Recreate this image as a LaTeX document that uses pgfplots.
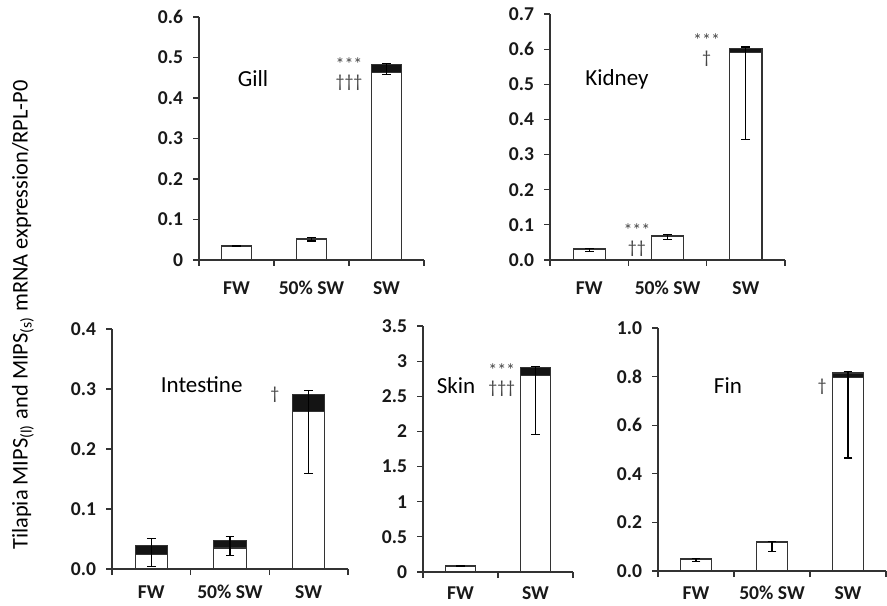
\documentclass[border=0pt]{standalone}
\usepackage{fontspec}
\setmainfont{Carlito}
\usepackage{pgfplots}
\pgfplotsset{compat=1.18}
\definecolor{axgray}{HTML}{333333}
\definecolor{annot}{HTML}{454545}
\definecolor{barblack}{HTML}{141414}
\pgfplotsset{
 panel/.style={
  scale only axis, clip=false,
  axis x line*=bottom, axis y line*=left,
  axis line style={axgray, line width=0.7pt},
  ymin=0, xmin=0,
  tick align=outside,
  major tick length=3pt,
  tick style={axgray, line width=0.6pt},
  xticklabels={},
  yticklabel style={xshift=-1.5pt},
  ticklabel style={font=\bfseries\fontsize{9.8}{11}\selectfont, text=black!90},
  /pgf/number format/assume math mode=true,
 },
 xlab/.style={extra x tick style={major tick length=0pt, tick style={draw=none}, xticklabel style={inner sep=0pt, yshift=#1}}},
 tot/.style={ybar, bar width=0.41, bar shift=0pt, fill=barblack, draw=axgray, line width=0.6pt},
 wht/.style={ybar, bar width=0.41, bar shift=0pt, fill=white, draw=axgray, line width=0.6pt},
 err/.style={draw=none, mark=none, forget plot, error bars/.cd, y dir=both, y explicit, error mark=|, error mark options={draw=black, mark size=2.2pt, line width=0.55pt}, error bar style={draw=black, line width=0.55pt}},
}
\tikzset{
 ann/.style={text=annot, font=\fontsize{9}{8.5}\selectfont, align=center, inner sep=0pt},
 ttl/.style={font=\fontsize{11.5}{13}\selectfont},
}
\begin{document}
\begin{tikzpicture}
\path[use as bounding box] (0,0) rectangle (443.5pt,302.5pt);
\node[rotate=90, font=\fontsize{11.2}{13}\selectfont] at (11.5pt,145pt) {Tilapia MIPS\textsubscript{(l)} and MIPS\textsubscript{(s)} mRNA expression/RPL-P0};

% Gill
\begin{axis}[panel, xlab=-10.5pt, at={(99.5pt,172.5pt)}, anchor=south west, width=112.5pt, height=121.5pt,
  xmax=3, ymax=0.6, xtick={0,1,2,3}, ytick={0,0.1,0.2,0.3,0.4,0.5,0.6},
  extra x ticks={0.5,1.5,2.5}, extra x tick labels={FW,50\% SW,SW}]
\addplot[tot] coordinates {(0.5,0.035) (1.5,0.053) (2.5,0.482)};
\addplot[wht] coordinates {(0.5,0.033) (1.5,0.050) (2.5,0.463)};
\addplot[err] coordinates {(0.5,0.035) += (0,0.001) -= (0,0.001) (1.5,0.053) += (0,0.002) -= (0,0.006) (2.5,0.482) += (0,0.004) -= (0,0.024)};
\node[ttl] at (axis cs:0.72,0.447) {Gill};
\node[ann] at (axis cs:2.0,0.458) {***\\\textdagger\textdagger\textdagger};
\end{axis}

% Kidney
\begin{axis}[panel, xlab=-10.5pt, at={(275pt,172.5pt)}, anchor=south west, width=117.5pt, height=123pt,
  xmax=3, ymax=0.7, xtick={0,1,2,3}, ytick={0,0.1,0.2,0.3,0.4,0.5,0.6,0.7},
  yticklabel style={/pgf/number format/.cd, fixed, fixed zerofill, precision=1},
  extra x ticks={0.5,1.5,2.5}, extra x tick labels={FW,50\% SW,SW}]
\addplot[tot] coordinates {(0.5,0.032) (1.5,0.069) (2.5,0.602)};
\addplot[wht] coordinates {(0.5,0.030) (1.5,0.066) (2.5,0.590)};
\addplot[err] coordinates {(0.5,0.032) += (0,0.001) -= (0,0.007) (1.5,0.069) += (0,0.003) -= (0,0.011) (2.5,0.602) += (0,0.004) -= (0,0.259)};
\node[ttl] at (axis cs:0.855,0.515) {Kidney};
\node[ann] at (axis cs:2.0,0.596) {***\\\textdagger};
\node[ann] at (axis cs:1.11,0.057) {***\\\textdagger\textdagger};
\end{axis}

% Intestine
\begin{axis}[panel, xlab=-8pt, at={(56pt,18pt)}, anchor=south west, width=118pt, height=120pt,
  xmax=3, ymax=0.4, xtick={0,1,2,3}, ytick={0,0.1,0.2,0.3,0.4},
  yticklabel style={/pgf/number format/.cd, fixed, fixed zerofill, precision=1},
  extra x ticks={0.5,1.5,2.5}, extra x tick labels={FW,50\% SW,SW}]
\addplot[tot] coordinates {(0.5,0.039) (1.5,0.048) (2.5,0.291)};
\addplot[wht] coordinates {(0.5,0.024) (1.5,0.035) (2.5,0.262)};
\addplot[err] coordinates {(0.5,0.039) += (0,0.012) -= (0,0.035) (1.5,0.048) += (0,0.006) -= (0,0.025) (2.5,0.291) += (0,0.006) -= (0,0.132)};
\node[ttl] at (axis cs:1.14,0.308) {Intestine};
\node[ann] at (axis cs:2.07,0.29) {\textdagger};
\end{axis}

% Skin
\begin{axis}[panel, xlab=-7pt, at={(211.5pt,16.5pt)}, anchor=south west, width=75pt, height=123pt,
  xmax=2, ymax=3.5, xtick={0,1,2}, ytick={0,0.5,1,1.5,2,2.5,3,3.5},
  extra x ticks={0.5,1.5}, extra x tick labels={FW,SW}]
\addplot[tot] coordinates {(0.5,0.09) (1.5,2.91)};
\addplot[wht] coordinates {(0.5,0.08) (1.5,2.80)};
\addplot[err] coordinates {(0.5,0.09) += (0,0.005) -= (0,0.005) (1.5,2.91) += (0,0.02) -= (0,0.96)};
\node[ttl] at (axis cs:0.44,2.65) {Skin};
\node[ann] at (axis cs:1.05,2.73) {***\\\textdagger\textdagger\textdagger};
\end{axis}

% Fin
\begin{axis}[panel, xlab=-7.5pt, at={(329pt,17pt)}, anchor=south west, width=114pt, height=121.5pt,
  xmax=3, ymax=1.0, xtick={0,1,2,3}, ytick={0,0.2,0.4,0.6,0.8,1.0},
  yticklabel style={/pgf/number format/.cd, fixed, fixed zerofill, precision=1},
  extra x ticks={0.5,1.5,2.5}, extra x tick labels={FW,50\% SW,SW}]
\addplot[tot] coordinates {(0.5,0.050) (1.5,0.120) (2.5,0.815)};
\addplot[wht] coordinates {(0.5,0.047) (1.5,0.117) (2.5,0.795)};
\addplot[err] coordinates {(0.5,0.050) += (0,0.002) -= (0,0.012) (1.5,0.120) += (0,0.003) -= (0,0.038) (2.5,0.815) += (0,0.005) -= (0,0.350)};
\node[ttl] at (axis cs:0.92,0.765) {Fin};
\node[ann] at (axis cs:2.16,0.76) {\textdagger};
\end{axis}
\end{tikzpicture}
\end{document}
